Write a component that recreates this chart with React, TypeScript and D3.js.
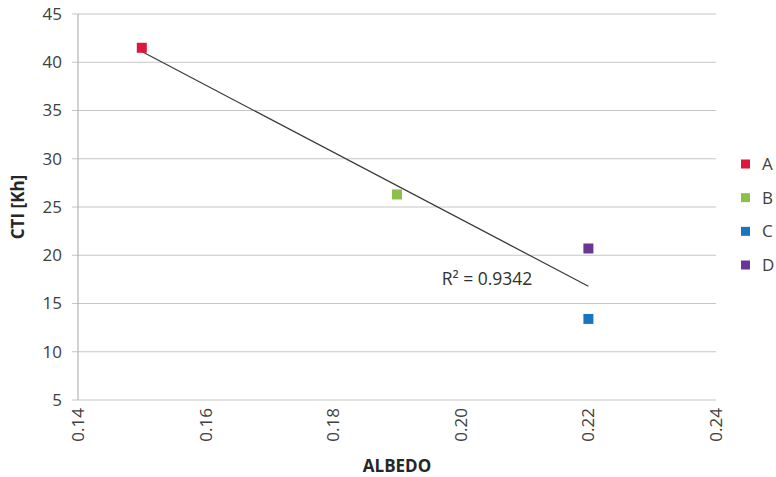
import * as d3 from 'd3'

const names = ['A', 'B', 'C', 'D']
const albedo = [0.15, 0.19, 0.22, 0.22]
const cti = [41.5, 26.3, 13.4, 20.7]
const colors = ['#e0173c', '#8cc04b', '#1b75bc', '#6a3696']
const xTicks = [0.14, 0.16, 0.18, 0.2, 0.22, 0.24]
const yTicks = [5, 10, 15, 20, 25, 30, 35, 40, 45]
const r2Label = 'R² = 0.9342'

export default function App() {
  const width = 776
  const height = 477
  const font = '"Open Sans", "Liberation Sans", sans-serif'

  const x = d3.scaleLinear().domain([0.14, 0.24]).range([78, 716])
  const y = d3.scaleLinear().domain([5, 45]).range([400, 14])

  // linear trendline (least squares)
  const mx = d3.mean(albedo)!
  const my = d3.mean(cti)!
  const sxy = d3.sum(albedo, (v, i) => (v - mx) * (cti[i] - my))
  const sxx = d3.sum(albedo, v => (v - mx) ** 2)
  const slope = sxy / sxx
  const icpt = my - slope * mx
  const [x0, x1] = d3.extent(albedo) as [number, number]
  const trend = d3.line<number>().x(d => x(d)).y(d => y(icpt + slope * d))([x0, x1])

  const legendY = d3.scalePoint<string>().domain(names).range([164, 265])

  return (
    <svg width={width} height={height} style={{ position: 'absolute', left: 0, top: 0, background: '#fff' }} fontFamily={font}>
      {yTicks.map(t => (
        <g key={t}>
          <line x1={72} x2={716} y1={y(t)} y2={y(t)} stroke="#c6c6c6" strokeWidth={1.2} />
          <text x={62} y={y(t)} dy="0.35em" textAnchor="end" fontSize={17} fill="#404040">{t}</text>
        </g>
      ))}
      <line x1={78} x2={78} y1={y(45)} y2={y(5)} stroke="#b5b5b5" strokeWidth={1.2} />
      {xTicks.map(t => (
        <text key={t} transform={`translate(${x(t)},408) rotate(-90)`} dy="0.35em" textAnchor="end" fontSize={17} fill="#404040">
          {t.toFixed(2)}
        </text>
      ))}
      <path d={trend ?? ''} fill="none" stroke="#3a3a3a" strokeWidth={1.2} />
      {albedo.map((v, i) => (
        <rect key={names[i]} x={x(v) - 5} y={y(cti[i]) - 5} width={10} height={10} fill={colors[i]} />
      ))}
      <text x={x(0.22) - 56} y={y(17.6)} dy="0.35em" textAnchor="end" fontSize={17.5} fill="#303030">{r2Label}</text>
      <text transform={`translate(18,207) rotate(-90)`} textAnchor="middle" dy="0.35em" fontSize={17} fontWeight="bold" fill="#262626">CTI [Kh]</text>
      <text x={397} y={472} textAnchor="middle" fontSize={17} fontWeight="bold" fill="#262626">ALBEDO</text>
      {names.map((n, i) => (
        <g key={n}>
          <rect x={741} y={legendY(n)! - 4.5} width={9} height={9} fill={colors[i]} />
          <text x={762} y={legendY(n)!} dy="0.35em" fontSize={17} fill="#404040">{n}</text>
        </g>
      ))}
    </svg>
  )
}
